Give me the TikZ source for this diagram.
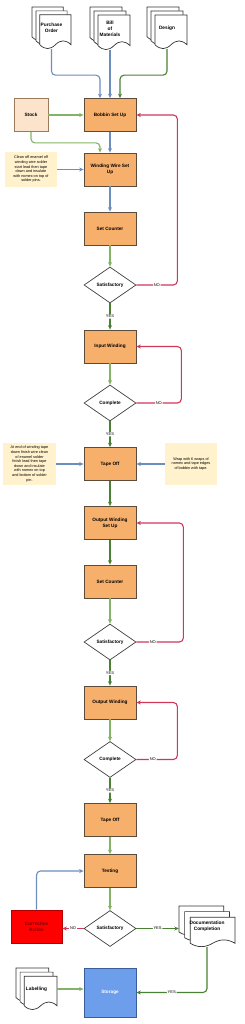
\documentclass[tikz,border=0pt]{standalone}
\usepackage{fontspec}
\setmainfont{Liberation Sans}
\usetikzlibrary{shapes.geometric,arrows.meta}

\definecolor{boxorange}{HTML}{F7B06C}
\definecolor{boxedge}{HTML}{5C4A3A}
\definecolor{stockfill}{HTML}{FCE4CC}
\definecolor{stockedge}{HTML}{9A7A5A}
\definecolor{notefill}{HTML}{FFF2CC}
\definecolor{arrowblue}{HTML}{6C8EBF}
\definecolor{arrowgreen}{HTML}{82B366}
\definecolor{arrowdkgreen}{HTML}{4A8033}
\definecolor{arrowred}{HTML}{D0385A}
\definecolor{storeblue}{HTML}{6D9EEB}
\definecolor{storeedge}{HTML}{3A5E9A}
\definecolor{corrred}{HTML}{FF0000}
\definecolor{corredge}{HTML}{B20000}
\definecolor{corrtext}{HTML}{7A0000}

\tikzset{
  procbox/.style={draw=boxedge, fill=boxorange, line width=0.8pt, minimum width=52pt, minimum height=33pt, align=center, font=\fontsize{4.7}{5.9}\selectfont\bfseries},
  stockbox/.style={procbox, draw=stockedge, fill=stockfill, minimum width=34pt},
  corrbox/.style={procbox, draw=corredge, fill=corrred, minimum width=51pt, text=corrtext},
  storebox/.style={procbox, draw=storeedge, fill=storeblue, minimum height=49pt, text=white},
  decision/.style={diamond, draw=black!75, fill=white, line width=0.7pt, minimum width=52pt, minimum height=36pt, inner sep=0pt, aspect=1.44, font=\fontsize{4.7}{5.9}\selectfont\bfseries},
  notebox/.style={fill=notefill, minimum width=52pt, minimum height=42pt, align=center, inner sep=1pt, font=\fontsize{3.8}{4.6}\selectfont},
  doctext/.style={minimum width=#1, align=center, inner sep=0pt, font=\fontsize{4.8}{6}\selectfont\bfseries},
  sheet/.style={draw=black!80, fill=white, line width=0.7pt},
  conn/.style={line width=1.1pt, rounded corners=4pt},
  blueline/.style={conn, arrowblue},
  greenline/.style={conn, arrowgreen},
  dkgreenline/.style={conn, arrowdkgreen},
  redline/.style={conn, arrowred},
  lbl/.style={fill=white, text=black, inner sep=0.8pt, font=\fontsize{4}{4}\selectfont}
}

% one sheet of a document shape: left, top, width, height
\newcommand{\docsheet}[4]{%
  \pgfmathsetmacro\shx{#1}%
  \pgfmathsetmacro\shy{#2}%
  \pgfmathsetmacro\shw{#3}%
  \pgfmathsetmacro\shh{#4}%
  \pgfmathsetmacro\shd{0.25*\shh}%
  \filldraw[sheet] (\shx,\shy) -- (\shx+\shw,\shy) -- (\shx+\shw,\shy+\shh-0.5*\shd)
    .. controls (\shx+5*\shw/6,\shy+\shh-1.1*\shd) and (\shx+2*\shw/3,\shy+\shh-1.1*\shd)
    .. (\shx+\shw/2,\shy+\shh-0.5*\shd)
    .. controls (\shx+\shw/3,\shy+\shh+0.1*\shd) and (\shx+\shw/6,\shy+\shh+0.1*\shd)
    .. (\shx,\shy+\shh-0.5*\shd) -- cycle;
}

% stack of three sheets: name, centre x, centre y, width, height, text
\newcommand{\multidoc}[6]{%
  \pgfmathsetmacro\mdd{0.1*#4}%
  \pgfmathsetmacro\mdw{#4-2*\mdd}%
  \pgfmathsetmacro\mdh{#5-2*\mdd}%
  \foreach \k in {0,1,2}{
    \docsheet{#2-#4/2+\k*\mdd}{#3-#5/2+\k*\mdd}{\mdw}{\mdh}
  }
  \node[doctext=#4pt, minimum height=#5pt] (#1) at (#2,#3) {#6};
}

\begin{document}
\begin{tikzpicture}[x=1pt, y=-1pt, >={Stealth[length=4.5pt,width=4pt]}]
  \useasboundingbox (0,0) rectangle (244,1024);

  % Input documents
  \multidoc{po}{51.5}{28}{39}{42}{Purchase\\Order}
  \multidoc{bom}{110}{28.5}{40}{43}{Bill\\of\\Materials}
  \multidoc{des}{167}{28}{40}{42}{Design}

  % Set up
  \node[stockbox] (stock) at (31,115) {Stock};
  \node[procbox] (bob) at (110,115) {Bobbin Set Up};
  \node[notebox, minimum height=35pt] (note1) at (31,169.5) {Clean off enamel off\\winding wire solder\\start lead then tape\\down and insulate\\with nomex on top of\\solder pins.};
  \node[procbox] (wind) at (110,169.5) {Winding Wire Set\\Up};
  \node[procbox] (cnt1) at (110,228.5) {Set Counter};
  \node[decision] (sat1) at (110,285) {Satisfactory};

  % Input winding
  \node[procbox] (inw) at (110,346.5) {Input Winding};
  \node[decision] (cmp1) at (110,403) {Complete};
  \node[procbox] (tape1) at (110,464) {Tape Off};
  \node[notebox, minimum width=53pt] (note2) at (29.5,464) {At end of winding tape\\down finish wire clean\\of enamel solder\\finish lead then tape\\down and insulate\\with nomex on top\\and bottom of solder\\pin.};
  \node[notebox] (note3) at (191,464) {Wrap with 6 wraps of\\nomex and tape edges\\of bobbin with tape.};

  % Output winding
  \node[procbox] (owsu) at (110,523) {Output Winding\\Set Up};
  \node[procbox] (cnt2) at (110,581.5) {Set Counter};
  \node[decision] (sat2) at (110,642) {Satisfactory};
  \node[procbox] (outw) at (110,702.5) {Output Winding};
  \node[decision] (cmp2) at (110,759.5) {Complete};
  \node[procbox] (tape2) at (110,820) {Tape Off};

  % Test and finish
  \node[procbox] (test) at (110,871) {Testing};
  \node[decision] (sat3) at (110,928.5) {Satisfactory};
  \node[corrbox] (corr) at (36.5,926.5) {Corrective\\Action};
  \multidoc{docs}{207}{926.5}{56}{41}{Documentation\\Completion}
  \node[storebox] (store) at (110,992.5) {Storage};
  \multidoc{lab}{36.5}{989}{41}{42}{Labelling}

  % Connectors
  \draw[blueline, ->] (po.south) -- ++(0,26) -| ([xshift=-10pt]bob.north);
  \draw[blueline, ->] (bom.south) -- (bob.north);
  \draw[dkgreenline, ->] (des.south) -- ++(0,26) -| ([xshift=10pt]bob.north);
  \draw[greenline, ->] (stock.east) -- (bob.west);
  \draw[greenline, ->] (stock.south) -- ++(0,11) -| ([xshift=-10pt]wind.north);
  \draw[blueline, ->] (bob.south) -- (wind.north);
  \draw[blueline, ->] (note1.east) -- (wind.west);
  \draw[blueline, ->] (wind.south) -- (cnt1.north);
  \draw[greenline, ->] (cnt1.south) -- (sat1.north);
  \draw[redline, ->] (sat1.east) -- ++(41,0) node[lbl, midway] {NO} |- (bob.east);
  \draw[dkgreenline, ->] (sat1.south) -- node[lbl] {YES} (inw.north);
  \draw[greenline, ->] (inw.south) -- (cmp1.north);
  \draw[redline, ->] (cmp1.east) -- ++(45,0) node[lbl, midway] {NO} |- (inw.east);
  \draw[dkgreenline, ->] (cmp1.south) -- node[lbl] {YES} (tape1.north);
  \draw[blueline, ->] (note2.east) -- (tape1.west);
  \draw[blueline, ->] (note3.west) -- (tape1.east);
  \draw[dkgreenline, ->] (tape1.south) -- (owsu.north);
  \draw[dkgreenline, ->] (owsu.south) -- (cnt2.north);
  \draw[greenline, ->] (cnt2.south) -- (sat2.north);
  \draw[redline, ->] (sat2.east) -- ++(47,0) node[lbl, pos=0.35] {NO} |- (owsu.east);
  \draw[dkgreenline, ->] (sat2.south) -- node[lbl] {YES} (outw.north);
  \draw[greenline, ->] (outw.south) -- (cmp2.north);
  \draw[redline, ->] (cmp2.east) -- ++(41,0) node[lbl, pos=0.4] {NO} |- (outw.east);
  \draw[dkgreenline, ->] (cmp2.south) -- node[lbl] {YES} (tape2.north);
  \draw[greenline, ->] (tape2.south) -- (test.north);
  \draw[greenline, ->] (test.south) -- (sat3.north);
  \draw[redline, ->] (sat3.west) -- node[lbl] {NO} (corr.east |- sat3.west);
  \draw[blueline, ->] (corr.north) |- (test.west);
  \draw[dkgreenline, ->] (sat3.east) -- node[lbl] {YES} (sat3.east -| docs.west);
  \draw[dkgreenline, ->] (docs.south) |- node[lbl, pos=0.75] {YES} (store.east);
  \draw[greenline, ->] (lab.east) -- (lab.east -| store.west);
\end{tikzpicture}
\end{document}
